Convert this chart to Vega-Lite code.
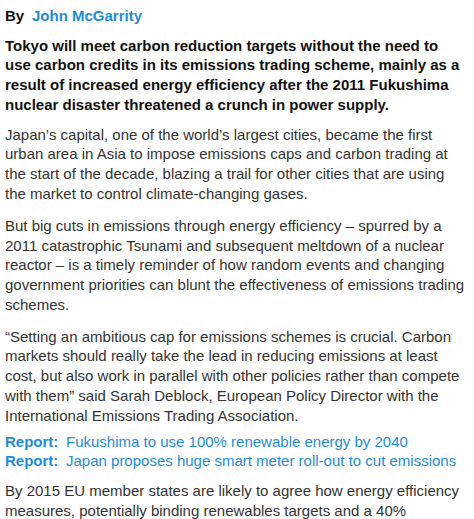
{
  "$schema": "https://vega.github.io/schema/vega-lite/v6.json",
  "width": 474,
  "height": 519,
  "padding": 0,
  "autosize": {"type": "fit", "contains": "padding"},
  "config": {"view": {"stroke": null}},
  "data": {
    "values": [
      {"x": 5, "y": 21, "kind": "plain", "bold": true, "text": "By"},
      {"x": 32, "y": 21, "kind": "link", "bold": true, "text": "John McGarrity"},
      {"x": 5, "y": 51, "kind": "plain", "bold": true, "text": "Tokyo will meet carbon reduction targets without the need to"},
      {"x": 5, "y": 71, "kind": "plain", "bold": true, "text": "use carbon credits in its emissions trading scheme, mainly as a"},
      {"x": 5, "y": 91, "kind": "plain", "bold": true, "text": "result of increased energy efficiency after the 2011 Fukushima"},
      {"x": 5, "y": 111, "kind": "plain", "bold": true, "text": "nuclear disaster threatened a crunch in power supply."},
      {"x": 5, "y": 141, "kind": "body", "bold": false, "text": "Japan’s capital, one of the world’s largest cities, became the first"},
      {"x": 5, "y": 161, "kind": "body", "bold": false, "text": "urban area in Asia to impose emissions caps and carbon trading at"},
      {"x": 5, "y": 181, "kind": "body", "bold": false, "text": "the start of the decade, blazing a trail for other cities that are using"},
      {"x": 5, "y": 201, "kind": "body", "bold": false, "text": "the market to control climate-changing gases."},
      {"x": 5, "y": 233, "kind": "body", "bold": false, "text": "But big cuts in emissions through energy efficiency – spurred by a"},
      {"x": 5, "y": 253, "kind": "body", "bold": false, "text": "2011 catastrophic Tsunami and subsequent meltdown of a nuclear"},
      {"x": 5, "y": 273, "kind": "body", "bold": false, "text": "reactor – is a timely reminder of how random events and changing"},
      {"x": 5, "y": 293, "kind": "body", "bold": false, "text": "government priorities can blunt the effectiveness of emissions trading"},
      {"x": 5, "y": 313, "kind": "body", "bold": false, "text": "schemes."},
      {"x": 5, "y": 345, "kind": "body", "bold": false, "text": "“Setting an ambitious cap for emissions schemes is crucial. Carbon"},
      {"x": 5, "y": 365, "kind": "body", "bold": false, "text": "markets should really take the lead in reducing emissions at least"},
      {"x": 5, "y": 385, "kind": "body", "bold": false, "text": "cost, but also work in parallel with other policies rather than compete"},
      {"x": 5, "y": 405, "kind": "body", "bold": false, "text": "with them” said Sarah Deblock, European Policy Director with the"},
      {"x": 5, "y": 425, "kind": "body", "bold": false, "text": "International Emissions Trading Association."},
      {"x": 5, "y": 451, "kind": "link", "bold": true, "text": "Report:"},
      {"x": 66, "y": 451, "kind": "link", "bold": false, "text": "Fukushima to use 100% renewable energy by 2040"},
      {"x": 5, "y": 471, "kind": "link", "bold": true, "text": "Report:"},
      {"x": 66, "y": 471, "kind": "link", "bold": false, "text": "Japan proposes huge smart meter roll-out to cut emissions"},
      {"x": 5, "y": 501, "kind": "body", "bold": false, "text": "By 2015 EU member states are likely to agree how energy efficiency"},
      {"x": 5, "y": 521, "kind": "body", "bold": false, "text": "measures, potentially binding renewables targets and a 40%"}
    ]
  },
  "encoding": {
    "x": {"field": "x", "type": "quantitative", "scale": {"domain": [0, 474]}, "axis": null},
    "y": {"field": "y", "type": "quantitative", "scale": {"domain": [0, 519], "reverse": true}, "axis": null},
    "text": {"field": "text"},
    "color": {
      "field": "kind",
      "type": "nominal",
      "scale": {"domain": ["plain", "body", "link"], "range": ["#111111", "#333333", "#1f8dd6"]},
      "legend": null
    }
  },
  "layer": [
    {
      "transform": [{"filter": "datum.bold"}],
      "mark": {"type": "text", "align": "left", "baseline": "alphabetic", "font": "Liberation Sans", "fontSize": 15, "fontWeight": "bold", "clip": false}
    },
    {
      "transform": [{"filter": "!datum.bold"}],
      "mark": {"type": "text", "align": "left", "baseline": "alphabetic", "font": "Liberation Sans", "fontSize": 15, "clip": false}
    }
  ]
}
